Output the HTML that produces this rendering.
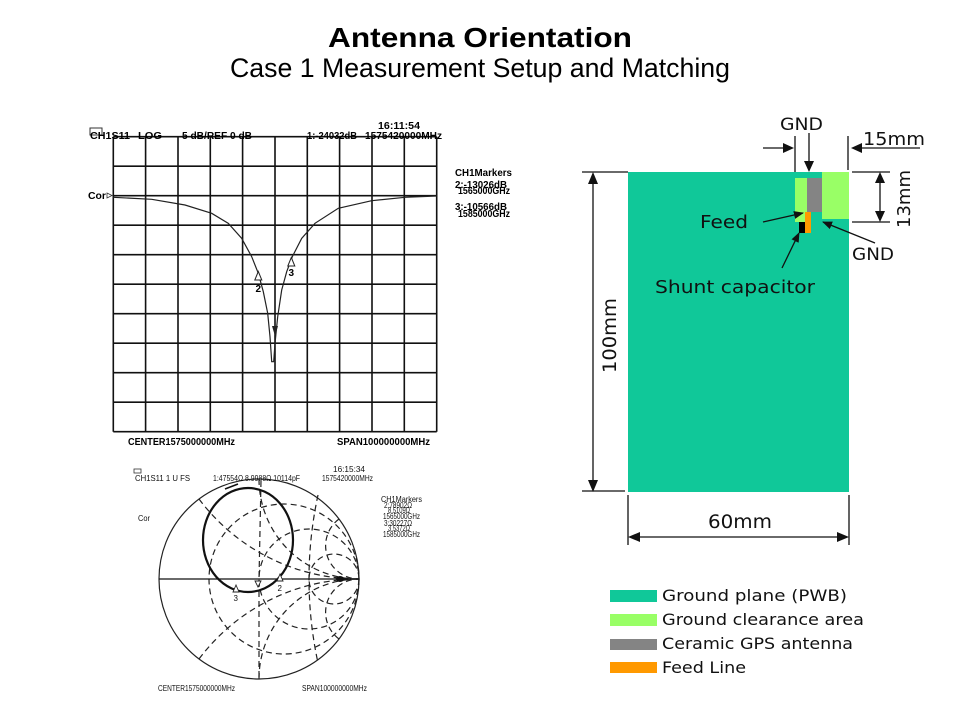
<!DOCTYPE html>
<html><head><meta charset="utf-8"><style>
html,body{margin:0;padding:0;background:#fff;}
svg{display:block;}
.t{font-family:"Liberation Sans",Arial,sans-serif;}
.vb{font-family:"Liberation Sans",Arial,sans-serif;font-weight:bold;font-size:10px;fill:#000;}
.sm{font-family:"Liberation Sans",Arial,sans-serif;font-size:8px;fill:#111;}
.dv{font-family:"DejaVu Sans",Verdana,sans-serif;fill:#111;}
</style></head><body>
<svg width="960" height="720" viewBox="0 0 960 720" xmlns="http://www.w3.org/2000/svg">
<defs>
<marker id="ah" markerWidth="10" markerHeight="8" refX="9" refY="4" orient="auto" markerUnits="userSpaceOnUse">
<path d="M0,0 L10,4 L0,8 Z" fill="#111"/></marker>
</defs>
<rect width="960" height="720" fill="#fff"/>
<!-- Titles -->
<text class="t" x="328" y="47" font-size="28" font-weight="bold" textLength="304" lengthAdjust="spacingAndGlyphs" fill="#000">Antenna Orientation</text>
<text class="t" x="230" y="77" font-size="27" textLength="500" lengthAdjust="spacingAndGlyphs" fill="#000">Case 1 Measurement Setup and Matching</text>

<!-- LOG MAG chart -->
<g stroke="#111" stroke-width="1.6" fill="none">
<path d="M113.3,136.7V431.7M145.6,136.7V431.7M178,136.7V431.7M210.3,136.7V431.7M242.6,136.7V431.7M275,136.7V431.7M307.3,136.7V431.7M339.6,136.7V431.7M372,136.7V431.7M404.3,136.7V431.7M436.7,136.7V431.7"/>
<path d="M113.3,136.7H436.7M113.3,166.2H436.7M113.3,195.7H436.7M113.3,225.2H436.7M113.3,254.7H436.7M113.3,284.2H436.7M113.3,313.7H436.7M113.3,343.2H436.7M113.3,372.7H436.7M113.3,402.2H436.7M113.3,431.7H436.7"/>
</g>
<polyline fill="none" stroke="#222" stroke-width="1.2" points="113.3,197.3 151.7,199.3 185,205 211.7,213.3 228.3,223.3 241.7,238.3 251.7,256.7 258.3,273.3 263.3,291.7 267.7,313.3 270,336.7 271.7,361.7 273.7,361.7 275,343.3 277.7,316.7 281.7,290 286.7,271.7 292.3,256.7 301.7,238.3 315,223.3 338.3,208.3 371.7,200.7 405,197.3 436.7,196"/>
<path d="M258.3,271.5 L254.8,280 L261.8,280 Z" fill="#fff" stroke="#222" stroke-width="1"/>
<text class="vb" x="255.5" y="292">2</text>
<path d="M291.3,257.5 L287.8,266 L294.8,266 Z" fill="#fff" stroke="#222" stroke-width="1"/>
<text class="vb" x="288.5" y="276">3</text>
<path d="M272,326 L278,326 L275,336 Z" fill="#222"/>
<rect x="90" y="128" width="12" height="7" fill="none" stroke="#333" stroke-width="1"/>
<text class="vb" x="90" y="139" textLength="40" lengthAdjust="spacingAndGlyphs">CH1S11</text>
<text class="vb" x="138" y="139" textLength="24" lengthAdjust="spacingAndGlyphs">LOG</text>
<text class="vb" x="182" y="139" textLength="70" lengthAdjust="spacingAndGlyphs">5 dB/REF 0 dB</text>
<text class="vb" x="307" y="139" textLength="50" lengthAdjust="spacingAndGlyphs">1:-24032dB</text>
<text class="vb" x="365" y="139" textLength="77" lengthAdjust="spacingAndGlyphs">1575420000MHz</text>
<text class="vb" x="378" y="129" textLength="42" lengthAdjust="spacingAndGlyphs">16:11:54</text>
<text class="vb" x="455" y="176" textLength="57" lengthAdjust="spacingAndGlyphs">CH1Markers</text>
<text class="vb" x="455" y="188" textLength="52" lengthAdjust="spacingAndGlyphs">2:-13026dB</text>
<text class="vb" x="458" y="194" textLength="52" lengthAdjust="spacingAndGlyphs">1565000GHz</text>
<text class="vb" x="455" y="210" textLength="52" lengthAdjust="spacingAndGlyphs">3:-10566dB</text>
<text class="vb" x="458" y="217" textLength="52" lengthAdjust="spacingAndGlyphs">1585000GHz</text>
<text class="vb" x="88" y="199" textLength="18" lengthAdjust="spacingAndGlyphs">Cor</text>
<path d="M107,193 L112,195.5 L107,198 Z" fill="none" stroke="#333" stroke-width="0.8"/>
<text class="vb" x="128" y="445" textLength="107" lengthAdjust="spacingAndGlyphs">CENTER1575000000MHz</text>
<text class="vb" x="337" y="445" textLength="93" lengthAdjust="spacingAndGlyphs">SPAN100000000MHz</text>

<!-- Smith chart -->
<g fill="none" stroke="#222" stroke-width="1.2" stroke-dasharray="6,4">
<circle cx="284" cy="579" r="75"/>
<circle cx="309" cy="579" r="50"/>
<circle cx="334" cy="579" r="25"/>
<path d="M199,499 A200,200 0 0 0 359,579"/>
<path d="M199,659 A200,200 0 0 1 359,579"/>
<path d="M259,479 A100,100 0 0 0 359,579"/>
<path d="M259,679 A100,100 0 0 1 359,579"/>
<path d="M339,519 A33.3,33.3 0 0 0 359,579"/>
<path d="M339,639 A33.3,33.3 0 0 1 359,579"/>
<path d="M261,481 L259,579 L259,679"/>
<path d="M318,495 Q300,579 318,663"/>
</g>
<circle cx="259" cy="579" r="100" fill="none" stroke="#222" stroke-width="1.2"/>
<line x1="159" y1="579" x2="359" y2="579" stroke="#111" stroke-width="1.3"/>
<ellipse cx="248" cy="540" rx="45" ry="52" fill="none" stroke="#111" stroke-width="2.2"/>
<line x1="225" y1="489" x2="238" y2="484" stroke="#111" stroke-width="1.5"/>
<ellipse cx="340" cy="579" rx="4" ry="3" fill="#111"/>
<path d="M280,574 L277,581 L283,581 Z" fill="#fff" stroke="#222" stroke-width="0.9"/>
<text class="sm" x="277.5" y="591">2</text>
<path d="M236,585 L233,592 L239,592 Z" fill="#fff" stroke="#222" stroke-width="0.9"/>
<text class="sm" x="233.5" y="601">3</text>
<path d="M255,581 L261,581 L258,587 Z" fill="#fff" stroke="#222" stroke-width="0.9"/>
<rect x="134" y="469" width="7" height="4" fill="none" stroke="#333" stroke-width="0.8"/>
<text class="sm" x="135" y="481" textLength="55" lengthAdjust="spacingAndGlyphs">CH1S11  1 U FS</text>
<text class="sm" x="213" y="481" textLength="87" lengthAdjust="spacingAndGlyphs">1:47554Ω  8.9988Ω  10114pF</text>
<text class="sm" x="333" y="472" textLength="32" lengthAdjust="spacingAndGlyphs">16:15:34</text>
<text class="sm" x="322" y="481" textLength="51" lengthAdjust="spacingAndGlyphs">1575420000MHz</text>
<text class="sm" x="381" y="502" textLength="41" lengthAdjust="spacingAndGlyphs">CH1Markers</text>
<text class="sm" x="384" y="508" textLength="28" lengthAdjust="spacingAndGlyphs">2:78902Ω</text>
<text class="sm" x="388" y="513" textLength="22" lengthAdjust="spacingAndGlyphs">8.5109Ω</text>
<text class="sm" x="383" y="519" textLength="37" lengthAdjust="spacingAndGlyphs">1565000GHz</text>
<text class="sm" x="384" y="526" textLength="28" lengthAdjust="spacingAndGlyphs">3:30227Ω</text>
<text class="sm" x="388" y="531" textLength="22" lengthAdjust="spacingAndGlyphs">3.5372Ω</text>
<text class="sm" x="383" y="537" textLength="37" lengthAdjust="spacingAndGlyphs">1585000GHz</text>
<text class="sm" x="138" y="521" textLength="12" lengthAdjust="spacingAndGlyphs">Cor</text>
<text class="sm" x="158" y="691" textLength="77" lengthAdjust="spacingAndGlyphs">CENTER1575000000MHz</text>
<text class="sm" x="302" y="691" textLength="65" lengthAdjust="spacingAndGlyphs">SPAN100000000MHz</text>

<!-- Antenna board diagram -->
<rect x="628" y="172" width="221" height="320" fill="#10c899"/>
<rect x="795" y="178" width="27" height="44" fill="#99ff66"/>
<rect x="807" y="178" width="15" height="34" fill="#848484"/>
<rect x="822" y="172" width="27" height="47" fill="#99ff66"/>
<rect x="811" y="212" width="11" height="10" fill="#10c899"/>
<rect x="805" y="212" width="6" height="21" fill="#ff9900"/>
<rect x="799" y="222" width="6" height="11" fill="#000"/>

<g stroke="#111" stroke-width="1.3" fill="none">
<line x1="795" y1="136" x2="795" y2="172"/>
<line x1="848" y1="136" x2="848" y2="170"/>
<line x1="582" y1="172" x2="628" y2="172"/>
<line x1="582" y1="491" x2="625" y2="491"/>
<line x1="593" y1="182" x2="593" y2="482"/>
<line x1="628" y1="495" x2="628" y2="545"/>
<line x1="849" y1="495" x2="849" y2="545"/>
<line x1="638" y1="537" x2="839" y2="537"/>
<line x1="852" y1="172" x2="890" y2="172"/>
<line x1="852" y1="222" x2="890" y2="222"/>
<line x1="880" y1="182" x2="880" y2="212"/>
<line x1="809" y1="133" x2="809" y2="162"/>
<line x1="763" y1="148" x2="785" y2="148"/>
<line x1="920" y1="148" x2="860" y2="148"/>
<line x1="763" y1="222" x2="803" y2="213" marker-end="url(#ah)"/>
<line x1="875" y1="243" x2="823" y2="222" marker-end="url(#ah)"/>
<line x1="782" y1="268" x2="799" y2="233" marker-end="url(#ah)"/>
</g>
<g fill="#111">
<path d="M588,184 L598,184 L593,172 Z"/>
<path d="M588,480 L598,480 L593,492 Z"/>
<path d="M628,537 L640,532 L640,542 Z"/>
<path d="M849,537 L837,532 L837,542 Z"/>
<path d="M875,183 L885,183 L880,172 Z"/>
<path d="M875,211 L885,211 L880,222 Z"/>
<path d="M804,161 L814,161 L809,172 Z"/>
<path d="M783,143 L783,153 L794,148 Z"/>
<path d="M862,143 L862,153 L851,148 Z"/>
</g>
<text class="dv" x="780" y="130" font-size="17" textLength="43" lengthAdjust="spacingAndGlyphs">GND</text>
<text class="dv" x="863" y="145" font-size="18" textLength="62" lengthAdjust="spacingAndGlyphs">15mm</text>
<text class="dv" x="700" y="228" font-size="18" textLength="48" lengthAdjust="spacingAndGlyphs">Feed</text>
<text class="dv" x="852" y="260" font-size="17" textLength="42" lengthAdjust="spacingAndGlyphs">GND</text>
<text class="dv" x="655" y="293" font-size="18" textLength="160" lengthAdjust="spacingAndGlyphs">Shunt capacitor</text>
<text class="dv" x="708" y="528" font-size="19" textLength="64" lengthAdjust="spacingAndGlyphs">60mm</text>
<text class="dv" font-size="19" textLength="75" lengthAdjust="spacingAndGlyphs" transform="translate(616,373) rotate(-90)">100mm</text>
<text class="dv" font-size="18" textLength="58" lengthAdjust="spacingAndGlyphs" transform="translate(910,228) rotate(-90)">13mm</text>

<!-- Legend -->
<rect x="610" y="590" width="47" height="12" fill="#10c899"/>
<rect x="610" y="614" width="47" height="12" fill="#99ff66"/>
<rect x="610" y="639" width="47" height="11" fill="#848484"/>
<rect x="610" y="662" width="47" height="11" fill="#ff9900"/>
<text class="dv" x="662" y="601" font-size="16" textLength="185" lengthAdjust="spacingAndGlyphs">Ground plane (PWB)</text>
<text class="dv" x="662" y="625" font-size="16" textLength="202" lengthAdjust="spacingAndGlyphs">Ground clearance area</text>
<text class="dv" x="662" y="649" font-size="16" textLength="191" lengthAdjust="spacingAndGlyphs">Ceramic GPS antenna</text>
<text class="dv" x="662" y="673" font-size="16" textLength="84" lengthAdjust="spacingAndGlyphs">Feed Line</text>
</svg>
</body></html>
